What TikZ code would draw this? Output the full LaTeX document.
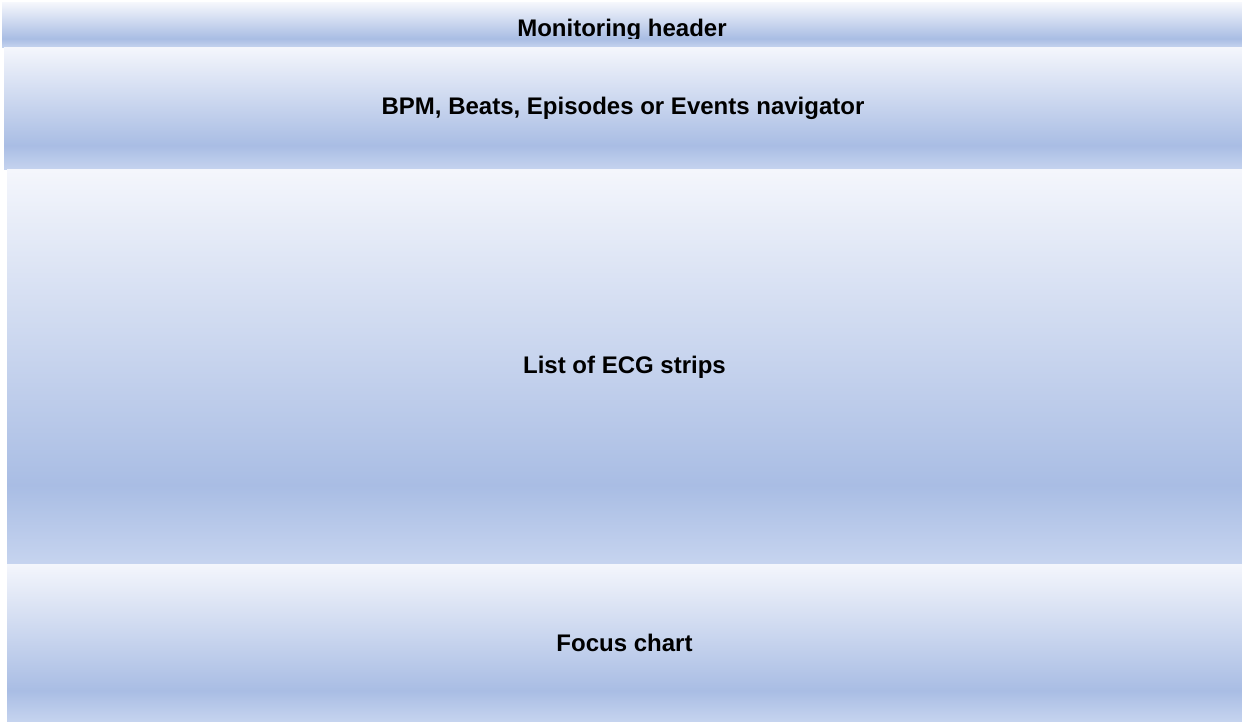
\documentclass[tikz,border=0pt]{standalone}
\usepackage{fontspec}
\setmainfont{Liberation Sans}
\definecolor{topc}{HTML}{F4F6FC}
\definecolor{midc}{HTML}{A9BDE4}
\definecolor{botc}{HTML}{C6D4EF}
\pgfdeclareverticalshading{panelshade}{100bp}{color(0bp)=(botc); color(25bp)=(botc); color(35bp)=(midc); color(75bp)=(topc); color(100bp)=(topc)}
\tikzset{
  panel/.style={rectangle, draw=none, inner sep=0pt, outer sep=0pt, shading=panelshade},
  paneltext/.style={font=\fontsize{24}{28}\selectfont\bfseries, text=black, inner sep=0pt}
}
\begin{document}
\begin{tikzpicture}[x=1pt,y=-1pt]
\useasboundingbox[fill=white] (0,0) rectangle (1242,722);
\node[panel, minimum width=1240pt, minimum height=44.5pt] (hdr) at (622,25.25) {};
\node[panel, paneltext, minimum width=1238pt, minimum height=122.5pt] (nav) at (623,108.75) {BPM, Beats, Episodes or Events navigator};
\node[panel, paneltext, minimum width=1235pt, minimum height=394pt] (list) at (624.5,367) {List of ECG strips};
\node[panel, paneltext, minimum width=1235pt, minimum height=158pt] (focus) at (624.5,643) {Focus chart};
\begin{scope}
\clip (2,3) rectangle (1242,38.5);
\node[paneltext, anchor=base] (hdrtext) at (622,36.7) {Monitoring header};
\end{scope}
\end{tikzpicture}
\end{document}
